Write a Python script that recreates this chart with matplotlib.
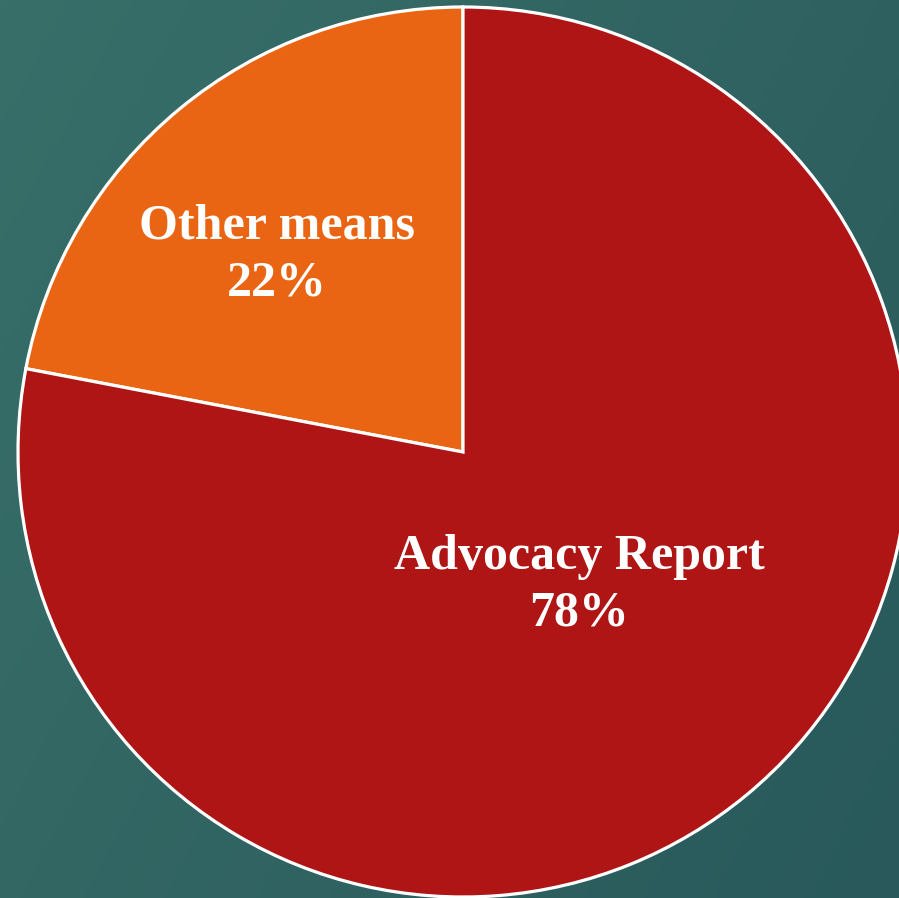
import numpy as np
from matplotlib import pyplot as plt
from matplotlib.colors import LinearSegmentedColormap

# data
categories = ['Other means', 'Advocacy Report']
shares = [22, 78]
slice_colors = ['#E96513', '#AE1514']


def main():
    fig = plt.figure(figsize=(8.99, 8.98), dpi=100)
    ax = fig.add_axes([0, 0, 1, 1])

    # teal background, slightly darker towards bottom right
    yy, xx = np.mgrid[0:1:200j, 0:1:200j]
    grad = (1.3 * xx + 0.7 * yy) / 2
    cmap = LinearSegmentedColormap.from_list('bg', ['#386f69', '#29595b'])
    ax.imshow(grad, extent=(0, 899, 0, 898), cmap=cmap, origin='upper', zorder=0, aspect='auto')

    ax.pie(shares, colors=slice_colors, startangle=90, counterclock=True,
           center=(463, 446), radius=445,
           wedgeprops=dict(edgecolor='white', linewidth=2.3), frame=True)
    ax.set_xlim(0, 899)
    ax.set_ylim(0, 898)
    ax.set_aspect('equal')
    ax.axis('off')

    font = dict(family=['Liberation Serif', 'DejaVu Serif'], fontsize=36,
                fontweight='bold', color='white', ha='center', va='center',
                linespacing=1.3)
    ax.text(277, 898 - 255, f'{categories[0]}\n{shares[0]}%', **font)
    ax.text(579, 898 - 585, f'{categories[1]}\n{shares[1]}%', **font)

    fig.savefig('out.png', dpi=100)


if __name__ == '__main__':
    main()
